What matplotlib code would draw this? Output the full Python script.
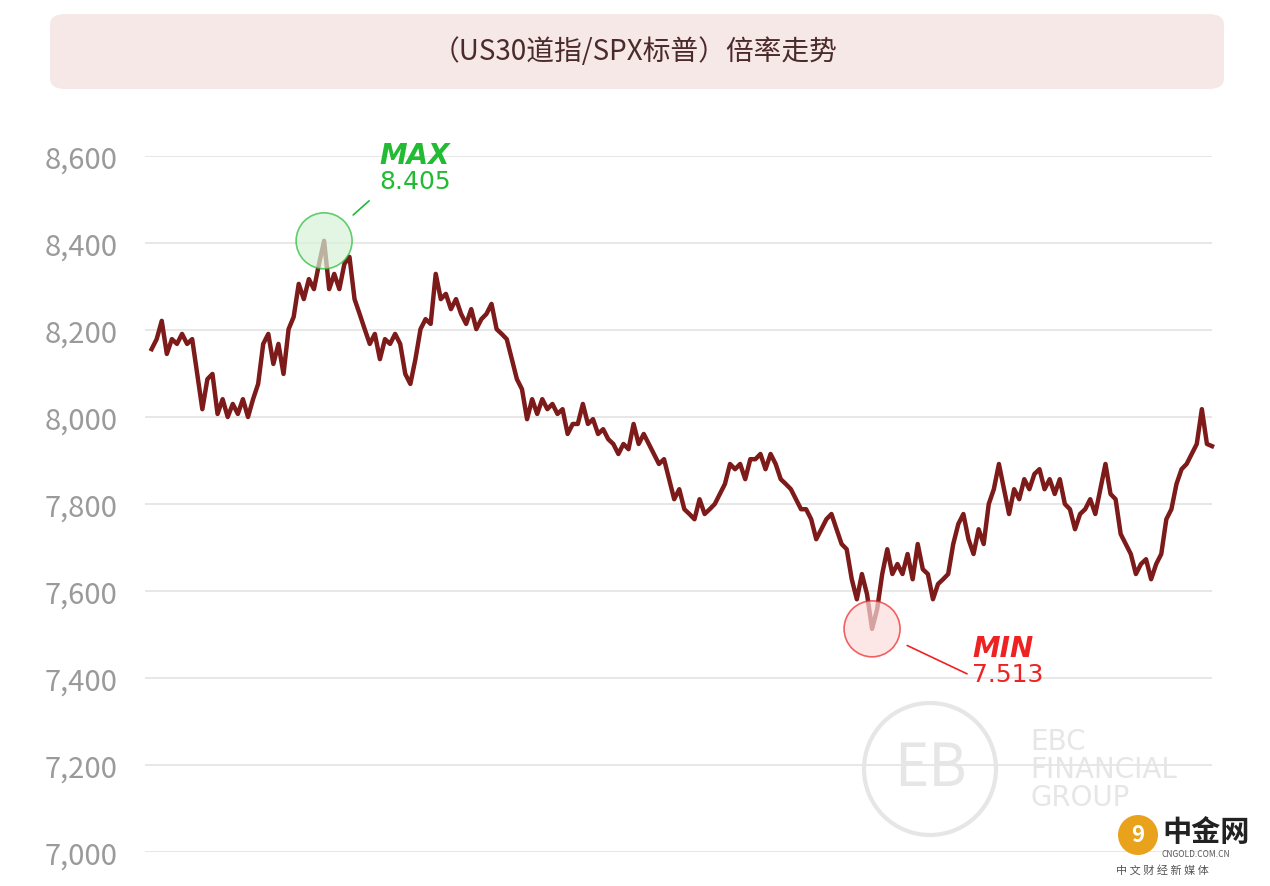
import matplotlib.pyplot as plt
from matplotlib.patches import FancyBboxPatch, Circle

plt.rcParams['font.family'] = ['Noto Sans CJK SC', 'DejaVu Sans']

TITLE = "（US30道指/SPX标普）倍率走势"
Y_TICKS = [7000, 7200, 7400, 7600, 7800, 8000, 8200, 8400, 8600]
ratio = [
    8156, 8179, 8221, 8145, 8179, 8168, 8191, 8168, 8179, 8099, 8018, 8087, 8099, 8007, 8041,
    8000, 8030, 8007, 8041, 8000, 8041, 8076, 8168, 8191, 8122, 8168, 8099, 8202, 8230, 8306,
    8271, 8317, 8294, 8352, 8405, 8294, 8329, 8294, 8352, 8368, 8271, 8237, 8202, 8168, 8191,
    8133, 8179, 8168, 8191, 8168, 8099, 8076, 8133, 8202, 8225, 8214, 8329, 8271, 8283, 8248,
    8271, 8237, 8214, 8248, 8202, 8225, 8237, 8260, 8202, 8191, 8179, 8133, 8087, 8064, 7995,
    8041, 8007, 8041, 8018, 8030, 8007, 8018, 7961, 7984, 7984, 8030, 7984, 7995, 7961, 7972,
    7949, 7938, 7915, 7938, 7926, 7984, 7938, 7961, 7938, 7915, 7892, 7903, 7857, 7811, 7834,
    7788, 7777, 7765, 7811, 7777, 7788, 7800, 7823, 7846, 7892, 7880, 7892, 7857, 7903, 7903,
    7915, 7880, 7915, 7892, 7857, 7846, 7834, 7811, 7788, 7788, 7765, 7719, 7742, 7765, 7777,
    7742, 7708, 7696, 7627, 7581, 7639, 7593, 7513, 7558, 7639, 7696, 7639, 7662, 7639, 7685,
    7627, 7708, 7650, 7639, 7581, 7616, 7627, 7639, 7708, 7754, 7777, 7719, 7685, 7742, 7708,
    7800, 7834, 7892, 7834, 7777, 7834, 7811, 7857, 7834, 7869, 7880, 7834, 7857, 7823, 7857,
    7800, 7788, 7742, 7777, 7788, 7811, 7777, 7834, 7892, 7823, 7811, 7731, 7708, 7685, 7639,
    7662, 7673, 7627, 7662, 7685, 7765, 7788, 7846, 7880, 7892, 7915, 7938, 8018, 7938, 7933,
]
MAX_LABEL, MAX_VAL = "8.405", 8405
MIN_LABEL, MIN_VAL = "7.513", 7513

W, H = 1270, 887
fig = plt.figure(figsize=(W / 100, H / 100), dpi=100)
fig.patch.set_facecolor("white")

# title box
box = FancyBboxPatch((50 / W, 1 - 90 / H), 1174 / W, 75 / H,
                     boxstyle="round,pad=0,rounding_size=0.012",
                     transform=fig.transFigure, facecolor="#f6e8e6", edgecolor="none")
fig.patches.append(box)
fig.text(0.5, 1 - 52 / H, TITLE, ha="center", va="center", fontsize=20,
         fontweight="medium", color="#4a2a2a")

ax = fig.add_axes([145 / W, 1 - 853 / H, 1067 / W, 696 / H])
xs = list(range(len(ratio)))
n = len(ratio)
ax.set_xlim(-1.3, n - 1)
ax.set_ylim(7000, 8600)
ax.set_yticks(Y_TICKS)
ax.set_yticklabels([f"{v:,}" for v in Y_TICKS])
ax.tick_params(axis="y", length=0, pad=20, labelsize=21, labelcolor="#9a9a9a")
ax.tick_params(axis="x", bottom=False, labelbottom=False)
ax.grid(axis="y", color="#e3e3e3", linewidth=1.2)
ax.set_axisbelow(True)
for s in ax.spines.values():
    s.set_visible(False)

ax.plot(xs, ratio, color="#7d1a1a", linewidth=3.2, clip_on=False, zorder=3)

# max / min markers
imax = ratio.index(MAX_VAL)
imin = ratio.index(MIN_VAL)
trans = ax.transData
for idx, val, col, face, lab, label_val, end, txt in [
    (imax, MAX_VAL, "#22bb33", "#d8f3d8", "MAX", MAX_LABEL, (45, 40), (55, 70)),
    (imin, MIN_VAL, "#ee2222", "#fbdcdc", "MIN", MIN_LABEL, (95, -45), (100, -35)),
]:
    px, py = trans.transform((idx, val))
    circ = Circle((px, py), 28, transform=None, facecolor=face, edgecolor=col,
                  linewidth=1.2, alpha=0.7, zorder=4)
    fig.patches.append(circ)
    ax.annotate("", xy=(idx, val), xytext=end, textcoords="offset pixels",
                arrowprops=dict(arrowstyle="-", color=col, lw=1.2, shrinkA=0, shrinkB=28))
    ax.annotate(lab, xy=(idx, val), xytext=(txt[0], txt[1] + 2),
                textcoords="offset pixels", fontsize=20, fontweight="bold", fontstyle="italic",
                color=col, va="bottom", ha="left", family="DejaVu Sans")
    ax.annotate(label_val, xy=(idx, val), xytext=(txt[0], txt[1] + 2),
                textcoords="offset pixels", fontsize=18, color=col, va="top", ha="left",
                family="DejaVu Sans")

# watermark
wm = "#e6e6e6"
fig.patches.append(Circle((930, H - 770), 66, transform=None, facecolor="none",
                          edgecolor=wm, linewidth=3))
fig.text(930 / W, 1 - 770 / H, "EB", ha="center", va="center", fontsize=42, color=wm)
fig.text(1030 / W, 1 - 770 / H, "EBC\nFINANCIAL\nGROUP", ha="left", va="center",
         fontsize=20, color=wm, linespacing=1.0, family="DejaVu Sans")

# corner logo
fig.patches.append(Circle((1138, H - 836), 20, transform=None, facecolor="#e8a21c",
                          edgecolor="none"))
fig.text(1138 / W, 1 - 836 / H, "9", ha="center", va="center", fontsize=16,
         color="white", fontweight="bold")
fig.text(1162 / W, 1 - 832 / H, "中金网", ha="left", va="center", fontsize=21,
         color="#222222", fontweight="bold")
fig.text(1162 / W, 1 - 855 / H, "CNGOLD.COM.CN", ha="left", va="center", fontsize=6,
         color="#555555")
fig.text(1116 / W, 1 - 870 / H, "中 文 财 经 新 媒 体", ha="left", va="center",
         fontsize=8, color="#555555")

fig.savefig("out.png", dpi=100)
